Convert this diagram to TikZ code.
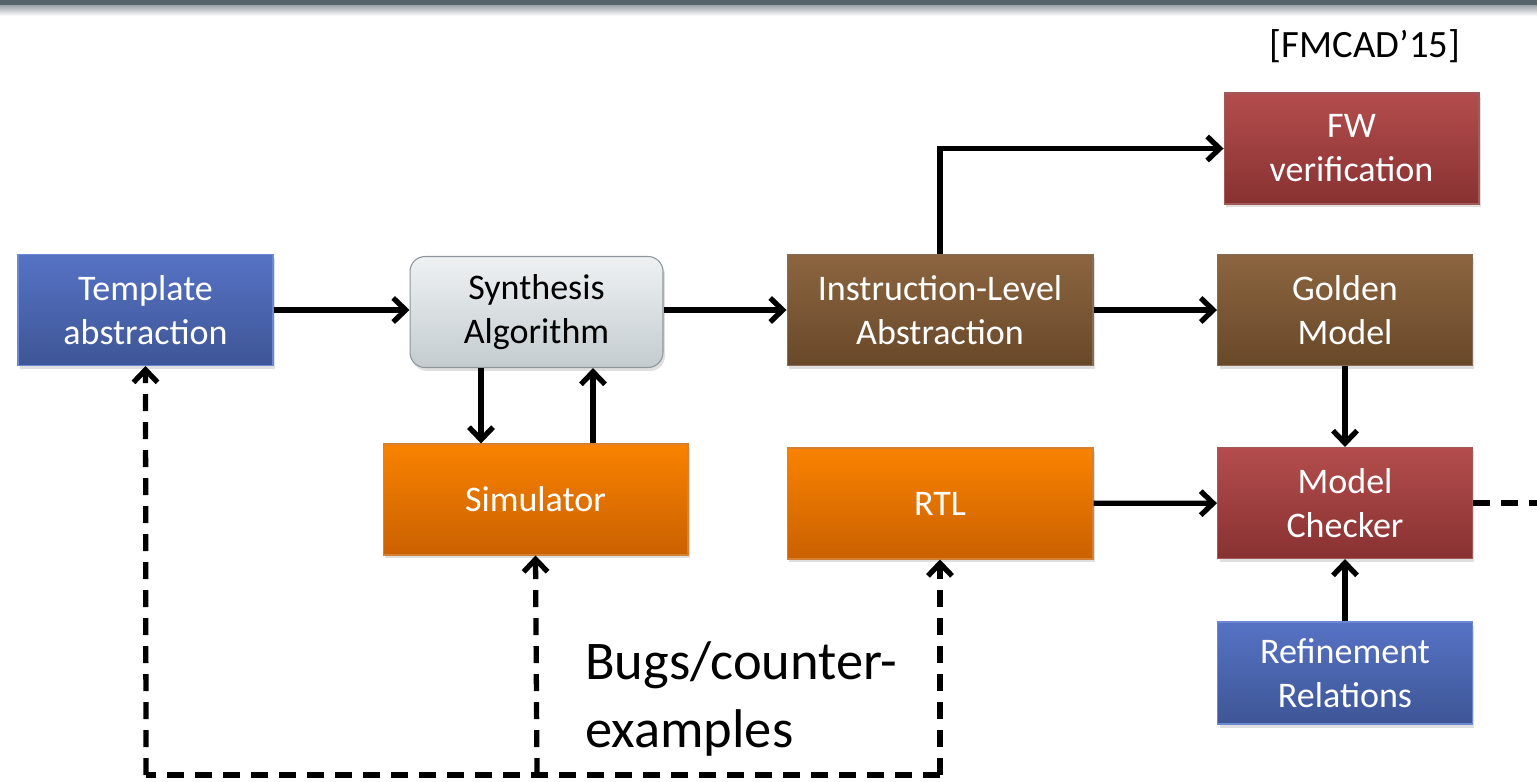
\documentclass[tikz,border=0pt]{standalone}
\usepackage{fontspec}
\setmainfont{Carlito}
\usetikzlibrary{arrows.meta,shadows}

\definecolor{bluetop}{HTML}{5672C4}
\definecolor{bluebot}{HTML}{3E5696}
\definecolor{blueline}{HTML}{6C88D2}
\definecolor{browntop}{HTML}{8C6540}
\definecolor{brownbot}{HTML}{684829}
\definecolor{redtop}{HTML}{B44D4D}
\definecolor{redbot}{HTML}{883131}
\definecolor{orangetop}{HTML}{F98200}
\definecolor{orangebot}{HTML}{CA6100}
\definecolor{graytop}{HTML}{EEF1F2}
\definecolor{graybot}{HTML}{C4CCD0}
\definecolor{grayline}{HTML}{8C969C}
\definecolor{barcol}{HTML}{58646C}

\begin{document}
\begin{tikzpicture}[
		x=0.02cm, y=-0.02cm,
		block/.style={minimum width=5.1cm, minimum height=2.22cm, align=center, text=white,
			font=\fontsize{20.5}{25}\selectfont, draw=#1!80!white, line width=0.6pt,
			drop shadow={opacity=0.25, shadow xshift=0.04cm, shadow yshift=-0.07cm}},
		bluebox/.style={block=bluebot, top color=bluetop, bottom color=bluebot, draw=blueline},
		brownbox/.style={block=brownbot, top color=browntop, bottom color=brownbot},
		redbox/.style={block=redbot, top color=redtop, bottom color=redbot},
		orangebox/.style={block=orangebot, top color=orangetop, bottom color=orangebot, minimum width=6.1cm},
		arr/.style={-{Straight Barb[length=2.5mm,width=4.8mm]}, line width=3pt},
		dashline/.style={line width=3pt, dash pattern=on 0.34cm off 0.22cm},
		dasharr/.style={dashline, -{Straight Barb[length=2.5mm,width=4.8mm]}}
		]
		\useasboundingbox (0,0) rectangle (1537,781);
		% Title bar
		\fill[barcol] (0,0) rectangle (1537,5);
		\shade[top color=barcol!60, bottom color=white] (0,5) rectangle (1537,16);
		% Citation
		\node[font=\fontsize{22}{26}\selectfont] (cite) at (1365,46) {[FMCAD’15]};
		% Template abstraction
		\node[bluebox] (tmpl) at (145.5,310) {Template\\abstraction};
		% Synthesis algorithm
		\node[block=grayline, top color=graytop, bottom color=graybot, draw=grayline, text=black,
			rounded corners=0.3cm, minimum width=5.06cm] (synth) at (536.5,312) {Synthesis\\Algorithm};
		% Instruction-level abstraction
		\node[brownbox, minimum width=6.12cm] (ila) at (940,310) {Instruction-Level\\Abstraction};
		% FW verification
		\node[redbox] (fw) at (1351.5,148.5) {FW\\verification};
		% Golden model
		\node[brownbox] (golden) at (1345,310) {Golden\\Model};
		% Simulator
		\node[orangebox] (sim) at (535.5,499.5) {Simulator};
		% RTL
		\node[orangebox, minimum width=6.12cm] (rtl) at (940,503.5) {RTL};
		% Model checker
		\node[redbox] (mc) at (1345,503) {Model\\Checker};
		% Refinement relations
		\node[bluebox, minimum height=2.04cm] (refine) at (1345,673) {Refinement\\Relations};
		% Bugs label
		\node[anchor=west, align=left, font=\fontsize{31}{38.5}\selectfont, inner sep=0pt] (bugs) at (585,699) {Bugs/counter-\\examples};

		% Corners of the feedback path
		\coordinate (cornerL) at (146,775);
		\coordinate (cornerM) at (537,775);
		\coordinate (cornerR) at (940,775);
		\coordinate (mcout) at (1537,503);

		% Arrows
		\draw[arr] (tmpl) -- (synth.west |- tmpl);
		\draw[arr] (synth.east |- ila) -- (ila);
		\draw[arr] (ila.north) |- (fw.west);
		\draw[arr] (ila) -- (golden);
		\draw[arr] (golden) -- (mc);
		\draw[arr] (rtl) -- (mc);
		\draw[arr] (refine) -- (mc);
		\draw[arr] ([xshift=-1.11cm]synth.south) -- ([xshift=-1.11cm]synth.south |- sim.north);
		\draw[arr] ([xshift=1.13cm]synth.south |- sim.north) -- ([xshift=1.13cm]synth.south);

		% Feedback (dashed)
		\draw[dashline] (mc.east) -- (mcout);
		\draw[dashline] (cornerR) -- (cornerL);
		\draw[dasharr] (cornerL) -- (tmpl.south);
		\draw[dasharr] (cornerM) -- (sim.south);
		\draw[dasharr] (cornerR) -- (rtl.south);
	\end{tikzpicture}
\end{document}
